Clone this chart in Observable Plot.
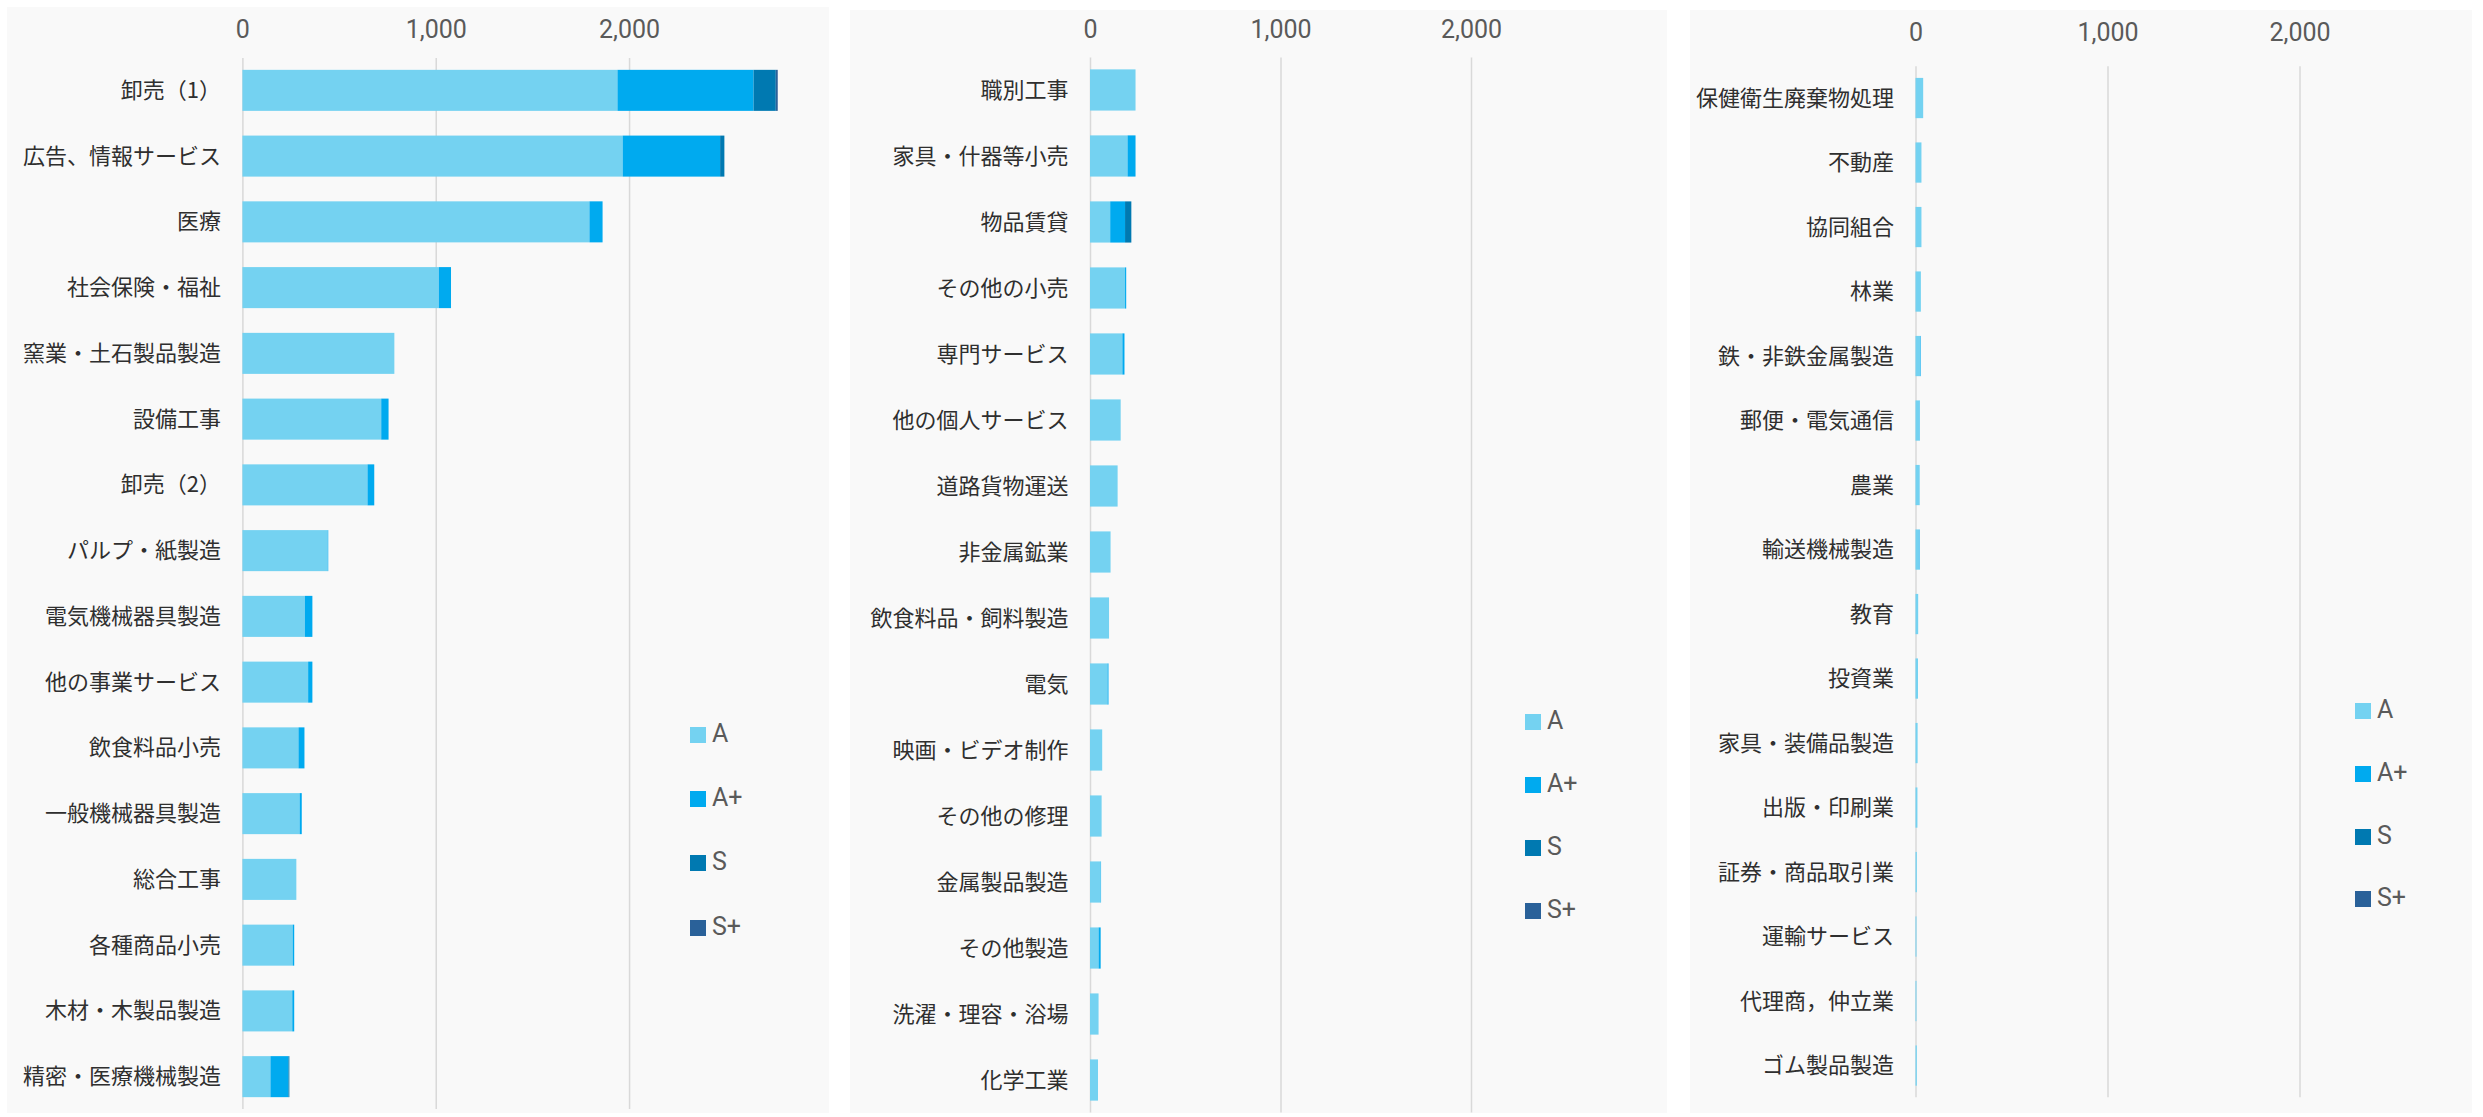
<!DOCTYPE html>
<html>
<head>
<meta charset="utf-8">
<script src="https://cdn.jsdelivr.net/npm/d3@7"></script>
<script src="https://cdn.jsdelivr.net/npm/@observablehq/plot@0.6"></script>
<style>
  html, body { margin: 0; padding: 0; background: #ffffff; }
  body { width: 2483px; height: 1117px; position: relative; overflow: hidden; font-family: Roboto, "Noto Sans", sans-serif; }
  .panel { position: absolute; background: #f9f9f9; }
  .panel svg { display: block; }
  .legend-item { position: absolute; height: 30px; display: flex; align-items: center; font-family: Roboto, sans-serif; font-size: 25px; color: #5a5a5a; }
  .legend-item .sw { width: 16px; height: 16px; margin-right: 6px; margin-top: 3px; }
</style>
</head>
<body>
<script>
// ---- Data ----
const grades = ["A", "A+", "S", "S+"];
const gradeColors = ["#74d2f1", "#00aaef", "#0079b1", "#2a6199"];
const tickValues = [0, 1000, 2000];

const categories1 = ["卸売（1）", "広告、情報サービス", "医療", "社会保険・福祉", "窯業・土石製品製造", "設備工事", "卸売（2）", "パルプ・紙製造", "電気機械器具製造", "他の事業サービス", "飲食料品小売", "一般機械器具製造", "総合工事", "各種商品小売", "木材・木製品製造", "精密・医療機械製造"];
const gradeA1     = [1940, 1967, 1795, 1016, 786, 718, 647, 441, 323, 340, 290, 296, 279, 260, 258, 145];
const gradeAplus1 = [704, 504, 68, 63, 0, 38, 35, 3, 39, 22, 31, 11, 0, 8, 10, 93];
const gradeS1     = [115, 22, 0, 0, 0, 0, 0, 0, 0, 0, 0, 0, 0, 0, 0, 5];
const gradeSplus1 = [10, 0, 0, 0, 0, 0, 0, 0, 0, 0, 0, 0, 0, 0, 0, 0];

const categories2 = ["職別工事", "家具・什器等小売", "物品賃貸", "その他の小売", "専門サービス", "他の個人サービス", "道路貨物運送", "非金属鉱業", "飲食料品・飼料製造", "電気", "映画・ビデオ制作", "その他の修理", "金属製品製造", "その他製造", "洗濯・理容・浴場", "化学工業"];
const gradeA2     = [239, 197, 106, 184, 170, 161, 145, 108, 100, 92, 64, 61, 56, 45, 45, 42];
const gradeAplus2 = [0, 42, 78, 6, 11, 0, 0, 0, 0, 5, 0, 0, 2, 11, 0, 0];
const gradeS2     = [0, 0, 33, 0, 0, 0, 0, 0, 0, 0, 0, 0, 0, 0, 0, 0];
const gradeSplus2 = [0, 0, 0, 0, 0, 0, 0, 0, 0, 0, 0, 0, 0, 0, 0, 0];

const categories3 = ["保健衛生廃棄物処理", "不動産", "協同組合", "林業", "鉄・非鉄金属製造", "郵便・電気通信", "農業", "輸送機械製造", "教育", "投資業", "家具・装備品製造", "出版・印刷業", "証券・商品取引業", "運輸サービス", "代理商，仲立業", "ゴム製品製造"];
const gradeA3     = [40, 31, 31, 28, 24, 20, 22, 18, 14, 13, 11, 10, 7, 5, 5, 7];
const gradeAplus3 = [0, 0, 0, 0, 3, 2, 0, 3, 0, 0, 0, 0, 0, 0, 0, 0];
const gradeS3     = [0, 0, 0, 0, 0, 0, 0, 0, 0, 0, 0, 0, 0, 0, 0, 0];
const gradeSplus3 = [0, 0, 0, 0, 0, 0, 0, 0, 0, 0, 0, 0, 0, 0, 0, 0];

// ---- Layout (page pixels) ----
const panels = [
  {cats: categories1, series: [gradeA1, gradeAplus1, gradeS1, gradeSplus1],
   left: 7, top: 7, width: 822, height: 1106, mL: 235.4, mR: 6.6, mT: 51, mB: 4, xMax: 3000, tickPad: 21,
   legendLeft: 690, legendTop: 733, legendStep: 64.4},
  {cats: categories2, series: [gradeA2, gradeAplus2, gradeS2, gradeSplus2],
   left: 850, top: 10, width: 817, height: 1103, mL: 240, mR: 5.5, mT: 47.5, mB: 0.5, xMax: 3000, tickPad: 20.5,
   legendLeft: 1525, legendTop: 720.5, legendStep: 63},
  {cats: categories3, series: [gradeA3, gradeAplus3, gradeS3, gradeSplus3],
   left: 1690, top: 10, width: 782, height: 1103, mL: 225.5, mR: 18.9, mT: 56.3, mB: 15.7, xMax: 2800, tickPad: 26,
   legendLeft: 2355, legendTop: 709.5, legendStep: 62.8}
];

for (const p of panels) {
  const rows = [];
  p.cats.forEach((c, i) => {
    grades.forEach((g, j) => rows.push({cat: c, grade: g, value: p.series[j][i]}));
  });

  const div = document.createElement("div");
  div.className = "panel";
  Object.assign(div.style, {left: p.left + "px", top: p.top + "px", width: p.width + "px", height: p.height + "px"});
  document.body.appendChild(div);

  const chart = Plot.plot({
    width: p.width,
    height: p.height,
    marginLeft: p.mL,
    marginRight: p.mR,
    marginTop: p.mT,
    marginBottom: p.mB,
    style: {background: "transparent", overflow: "visible"},
    x: {domain: [0, p.xMax], axis: null, label: null},
    y: {domain: p.cats, paddingInner: 0.376, paddingOuter: 0.18, round: false, axis: null, label: null},
    color: {domain: grades, range: gradeColors},
    marks: [
      Plot.ruleX(tickValues, {stroke: "#d9d9d9", strokeWidth: 1.5}),
      Plot.barX(rows, Plot.stackX({x: "value", y: "cat", fill: "grade"})),
      Plot.axisX(tickValues, {anchor: "top", label: null, tickSize: 0, tickPadding: p.tickPad, tickFormat: d3.format(","),
        fontSize: 25, fontFamily: "Roboto", color: "#5a5a5a"}),
      Plot.axisY({label: null, tickSize: 0, tickPadding: 22, fontSize: 22, fontFamily: "Noto Sans CJK JP", color: "#2f2f2f"})
    ]
  });
  div.appendChild(chart);

  grades.forEach((g, j) => {
    const item = document.createElement("div");
    item.className = "legend-item";
    item.style.left = p.legendLeft + "px";
    item.style.top = (p.legendTop + j * p.legendStep - 15) + "px";
    const sw = document.createElement("span");
    sw.className = "sw";
    sw.style.background = gradeColors[j];
    const tx = document.createElement("span");
    tx.textContent = g;
    item.appendChild(sw);
    item.appendChild(tx);
    document.body.appendChild(item);
  });
}
</script>
</body>
</html>
